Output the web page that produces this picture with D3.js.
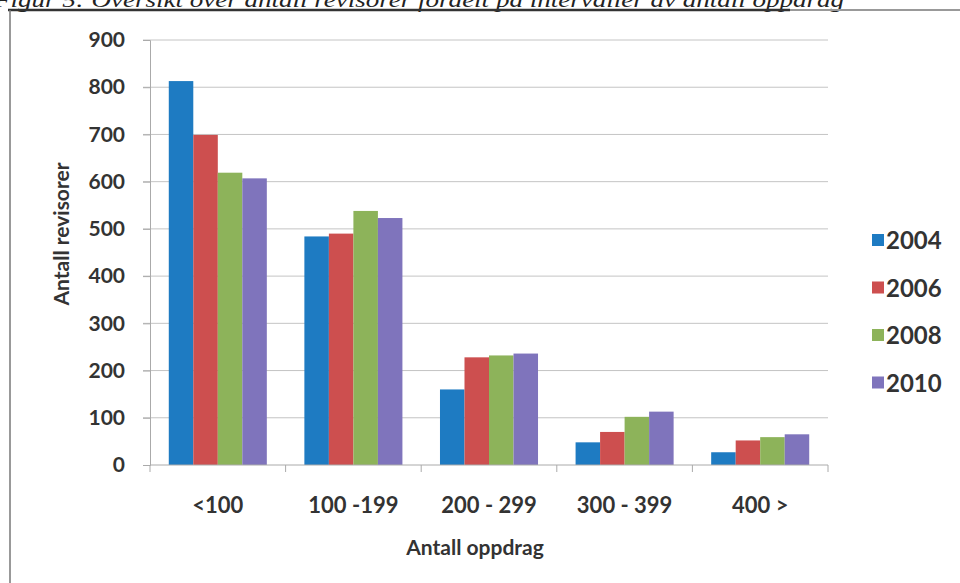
<!DOCTYPE html>
<html>
<head>
<meta charset="utf-8">
<script src="https://cdn.jsdelivr.net/npm/d3@7"></script>
<style>
  body { margin: 0; background: #fff; }
  svg { display: block; }
</style>
</head>
<body>
<svg id="chart" width="960" height="583"></svg>
<script>
// data
const categories = ["<100", "100 -199", "200 - 299", "300 - 399", "400 >"];
const years = ["2004", "2006", "2008", "2010"];
const values2004 = [813, 484, 160, 48, 27];
const values2006 = [699, 490, 228, 70, 52];
const values2008 = [619, 538, 232, 102, 59];
const values2010 = [607, 523, 236, 113, 65];
const yTicks = [0, 100, 200, 300, 400, 500, 600, 700, 800, 900];
const colors = ["#1e7bc2", "#cd4f4f", "#8db35a", "#7f74bc"];

const series = [values2004, values2006, values2008, values2010];

const svg = d3.select("#chart");
const font = "Lato, 'Open Sans', sans-serif";
const textCol = "#333";

const plotLeft = 150, plotRight = 828, plotTop = 40, plotBottom = 465;

const x = d3.scaleBand().domain(categories).range([plotLeft, plotRight])
    .paddingInner(0.277).paddingOuter(0.1385);
const xSub = d3.scaleBand().domain(years).range([0, x.bandwidth()]);
const y = d3.scaleLinear().domain([0, 900]).range([plotBottom, plotTop]);

// caption at top, partly cut off by the page edge as in the scan
svg.append("text")
    .attr("x", -6).attr("y", 7)
    .attr("font-family", "'Liberation Serif', serif")
    .attr("font-style", "italic")
    .attr("font-size", 22)
    .attr("fill", "#222")
    .attr("textLength", 850)
    .attr("lengthAdjust", "spacingAndGlyphs")
    .text("Figur 5: Oversikt over antall revisorer fordelt på intervaller av antall oppdrag");

// frame of the chart
svg.append("line").attr("x1", 8).attr("x2", 790).attr("y1", 10).attr("y2", 10)
    .attr("stroke", "#333").attr("stroke-width", 2.5);
svg.append("line").attr("x1", 790).attr("x2", 960).attr("y1", 10).attr("y2", 10)
    .attr("stroke", "#999").attr("stroke-width", 2);
svg.append("line").attr("x1", 10).attr("x2", 10).attr("y1", 10).attr("y2", 583)
    .attr("stroke", "#777").attr("stroke-width", 1.5);

// gridlines
svg.append("g").selectAll("line")
    .data(yTicks.filter(d => d > 0))
    .join("line")
    .attr("x1", plotLeft - 7).attr("x2", plotRight)
    .attr("y1", d => y(d)).attr("y2", d => y(d))
    .attr("stroke", "#c4c4c4").attr("stroke-width", 1);

// y axis
const yAxis = svg.append("g")
    .attr("transform", `translate(${plotLeft},0)`)
    .call(d3.axisLeft(y).tickValues(yTicks).tickSize(7).tickPadding(18));
yAxis.select(".domain").attr("stroke", "#aaa");
yAxis.selectAll(".tick line").attr("stroke", "#aaa");
yAxis.selectAll("text")
    .attr("font-family", font).attr("font-weight", "bold")
    .attr("font-size", 21).attr("fill", textCol);

// bars
const groups = svg.append("g").selectAll("g")
    .data(years)
    .join("g")
    .attr("fill", (d, i) => colors[i]);

groups.selectAll("rect")
    .data((yr, i) => series[i].map((v, j) => ({ yr, cat: categories[j], v })))
    .join("rect")
    .attr("x", d => x(d.cat) + xSub(d.yr))
    .attr("width", xSub.bandwidth())
    .attr("y", d => y(d.v))
    .attr("height", d => y(0) - y(d.v));

// x axis: ticks between categories
const boundaries = d3.range(categories.length + 1);
svg.append("line").attr("x1", plotLeft).attr("x2", plotRight)
    .attr("y1", plotBottom).attr("y2", plotBottom).attr("stroke", "#aaa");
svg.append("g").selectAll("line")
    .data(boundaries)
    .join("line")
    .attr("x1", i => plotLeft + i * x.step()).attr("x2", i => plotLeft + i * x.step())
    .attr("y1", plotBottom).attr("y2", plotBottom + 7)
    .attr("stroke", "#aaa");

svg.append("g").selectAll("text")
    .data(categories)
    .join("text")
    .attr("x", d => x(d) + x.bandwidth() / 2)
    .attr("y", 513)
    .attr("text-anchor", "middle")
    .attr("font-family", font).attr("font-weight", "bold")
    .attr("font-size", 22).attr("fill", textCol)
    .text(d => d);

// axis titles
svg.append("text")
    .attr("x", 475).attr("y", 555)
    .attr("text-anchor", "middle")
    .attr("font-family", font).attr("font-weight", "bold")
    .attr("font-size", 21).attr("fill", textCol)
    .text("Antall oppdrag");

svg.append("text")
    .attr("transform", "translate(69,234) rotate(-90)")
    .attr("text-anchor", "middle")
    .attr("font-family", font).attr("font-weight", "bold")
    .attr("font-size", 21).attr("fill", textCol)
    .text("Antall revisorer");

// legend
const legend = svg.append("g").selectAll("g")
    .data(years)
    .join("g")
    .attr("transform", (d, i) => `translate(872,${240 + i * 47.5})`);
legend.append("rect")
    .attr("x", 0).attr("y", -6).attr("width", 12).attr("height", 12)
    .attr("fill", (d, i) => colors[i]);
legend.append("text")
    .attr("x", 14).attr("y", 9)
    .attr("font-family", font).attr("font-weight", "bold")
    .attr("font-size", 24).attr("fill", textCol)
    .text(d => d);
</script>
</body>
</html>
